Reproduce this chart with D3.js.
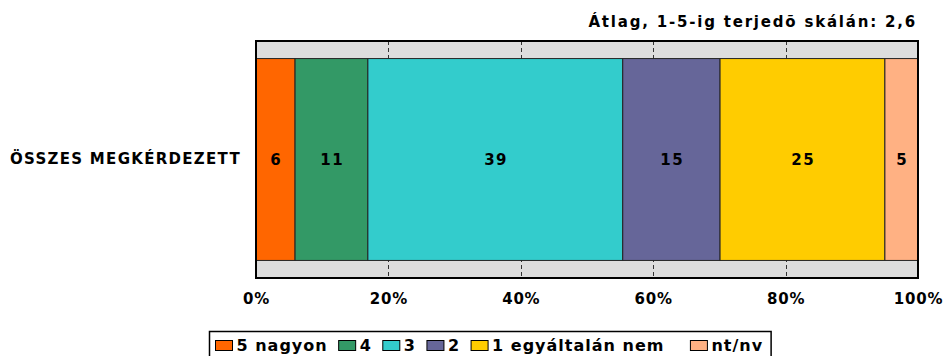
<!DOCTYPE html>
<html>
<head>
<meta charset="utf-8">
<script src="https://cdn.jsdelivr.net/npm/d3@7"></script>
<style>
  html, body { margin: 0; padding: 0; background: #fff; }
  svg text { font-family: "DejaVu Sans", Verdana, sans-serif; font-weight: bold; }
</style>
</head>
<body>
<svg id="chart" width="946" height="356"></svg>
<script>
// Survey answers, share of all respondents (%)
const categories = ["ÖSSZES MEGKÉRDEZETT"];
const seriesNames = ["5 nagyon", "4", "3", "2", "1 egyáltalán nem", "nt/nv"];
const seriesValues = [5.9, 11.0, 38.5, 14.7, 24.9, 5.0];
const seriesColors = ["#FF6600", "#339966", "#33CCCC", "#666699", "#FFCC00", "#FFB183"];
const tickValues = [0, 20, 40, 60, 80, 100];
const subtitle = "Átlag, 1-5-ig terjedõ skálán: 2,6";

const FONT = '"DejaVu Sans", Verdana, sans-serif';
const svg = d3.select("#chart");
const plot = { left: 256, right: 918, top: 41, bottom: 278 };

const x = d3.scaleLinear().domain([0, 100]).range([plot.left, plot.right]);
const y = d3.scaleBand().domain(categories).range([plot.top, plot.bottom]).paddingInner(0).paddingOuter(0.087);

// plot background
svg.append("rect")
  .attr("x", plot.left).attr("y", plot.top)
  .attr("width", plot.right - plot.left).attr("height", plot.bottom - plot.top)
  .attr("fill", "#DDDDDD");

// dashed gridlines
svg.append("g")
  .selectAll("line")
  .data(tickValues.filter(t => t > 0 && t < 100))
  .join("line")
  .attr("x1", d => Math.round(x(d)) + 0.5).attr("x2", d => Math.round(x(d)) + 0.5)
  .attr("y1", plot.top).attr("y2", plot.bottom)
  .attr("stroke", "#333").attr("stroke-width", 1)
  .attr("stroke-dasharray", "4,3");

// stacked segments
const rows = categories.map(c => {
  const r = { category: c };
  seriesNames.forEach((s, i) => { r[s] = seriesValues[i]; });
  return r;
});
const stacked = d3.stack().keys(seriesNames)(rows);

const segs = svg.append("g")
  .selectAll("g")
  .data(stacked)
  .join("g")
  .attr("fill", (d, i) => seriesColors[i]);

segs.selectAll("rect")
  .data(d => d.map(v => ({ v, key: d.key })))
  .join("rect")
  .attr("x", d => x(d.v[0]))
  .attr("y", d => y(d.v.data.category))
  .attr("width", d => x(d.v[1]) - x(d.v[0]))
  .attr("height", y.bandwidth())
  .attr("stroke", "#222").attr("stroke-width", 1);

// value labels
segs.selectAll("text")
  .data(d => d.map(v => ({ v, key: d.key })))
  .join("text")
  .attr("x", d => (x(d.v[0]) + x(d.v[1])) / 2 + 0.75)
  .attr("y", d => y(d.v.data.category) + y.bandwidth() / 2)
  .attr("dy", "0.36em")
  .attr("text-anchor", "middle")
  .attr("font-size", 15)
  .attr("letter-spacing", 1.5)
  .attr("fill", "#000")
  .text(d => Math.round(d.v[1] - d.v[0]));

// frame
svg.append("rect")
  .attr("x", plot.left).attr("y", plot.top)
  .attr("width", plot.right - plot.left).attr("height", plot.bottom - plot.top)
  .attr("fill", "none").attr("stroke", "#000").attr("stroke-width", 2);

// x axis labels
const xAxis = d3.axisBottom(x).tickValues(tickValues).tickSize(0).tickPadding(15)
  .tickFormat(d => d + "%");
svg.append("g")
  .attr("transform", `translate(0,${plot.bottom})`)
  .call(xAxis)
  .call(g => g.select(".domain").remove())
  .call(g => g.selectAll("text").attr("font-size", 15).attr("letter-spacing", 0.8)
    .attr("fill", "#000").style("font-family", FONT).style("font-weight", "bold"));

// category labels
const yAxis = d3.axisLeft(y).tickSize(0).tickPadding(15);
svg.append("g")
  .attr("transform", `translate(${plot.left},0)`)
  .call(yAxis)
  .call(g => g.select(".domain").remove())
  .call(g => g.selectAll("text").attr("font-size", 15).attr("letter-spacing", 1.3)
    .attr("fill", "#000").style("font-family", FONT).style("font-weight", "bold"));

// subtitle
svg.append("text")
  .attr("x", 917).attr("y", 27)
  .attr("text-anchor", "end")
  .attr("font-size", 15)
  .attr("letter-spacing", 1.8)
  .attr("fill", "#000")
  .text(subtitle);

// legend
const legend = svg.append("g");
const items = legend.selectAll("g")
  .data(seriesNames)
  .join("g");
items.append("rect")
  .attr("width", 17).attr("height", 10)
  .attr("y", -10)
  .attr("fill", (d, i) => seriesColors[i])
  .attr("stroke", "#000").attr("stroke-width", 1);
items.append("text")
  .attr("x", 21).attr("y", 0)
  .attr("font-size", 16).attr("letter-spacing", 1)
  .attr("fill", "#000")
  .text(d => d);

let cx = 215;
items.each(function (d, i) {
  const w = this.querySelector("text").getComputedTextLength();
  d3.select(this).attr("transform", `translate(${cx + 0.5},350.5)`);
  cx += 21 + w + (i === 4 ? 26 : 11);
});
legend.insert("rect", ":first-child")
  .attr("x", 209.5).attr("y", 331.5)
  .attr("width", cx - 11 - 209 + 8).attr("height", 30)
  .attr("fill", "#fff").attr("stroke", "#000").attr("stroke-width", 1.5);
</script>
</body>
</html>
